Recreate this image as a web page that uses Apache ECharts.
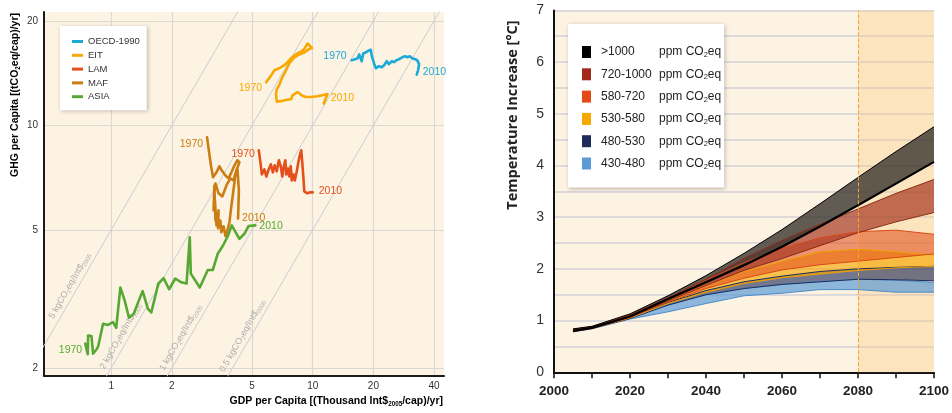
<!DOCTYPE html>
<html><head><meta charset="utf-8">
<script src="https://cdn.jsdelivr.net/npm/echarts@6/dist/echarts.min.js"></script>
<style>html,body{margin:0;padding:0;background:#fff}#c{width:952px;height:413px}</style>
</head><body><div id="c"></div>
<script>
const FONT = "'Liberation Sans','Arial',sans-serif";

// ---------- Left panel data: [GDP per capita (k Int$2005), GHG per capita (tCO2eq)] ----------
const regionNames = ['OECD-1990','EIT','LAM','MAF','ASIA'];
const regionColors = ['#1ba9d6','#f8a800','#e3501c','#c97d12','#57a832'];
const oecd = [[15.6,15.4],[16.2,15.5],[16.7,15.6],[17.0,16.0],[17.3,15.8],[17.5,15.3],[17.8,16.1],[18.3,16.2],[18.9,16.4],[19.4,16.5],[19.6,15.9],[20.2,15.0],[20.6,14.6],[21.3,14.8],[22.0,14.7],[22.6,14.9],[23.3,15.3],[23.9,15.0],[24.7,15.3],[25.3,15.2],[26.0,15.4],[26.8,15.5],[27.8,15.7],[28.7,15.8],[29.5,15.7],[30.3,15.8],[31.2,15.6],[32.2,15.5],[33.0,15.4],[33.7,15.0],[33.3,14.4],[32.8,14.0]];
const eit = [[5.87,13.3],[6.21,13.9],[6.45,14.4],[6.83,14.6],[7.23,14.9],[7.50,15.2],[7.80,15.6],[8.10,15.9],[8.41,16.1],[8.74,16.3],[9.08,16.6],[9.43,17.2],[9.91,16.7],[9.61,16.6],[9.08,16.2],[8.58,16.0],[8.10,15.7],[7.65,15.1],[7.37,14.4],[7.06,13.75],[6.83,13.1],[6.63,12.7],[6.57,12.3],[6.63,11.7],[6.75,11.55],[7.09,11.76],[7.48,11.84],[7.80,11.88],[7.94,12.2],[8.41,12.47],[8.58,12.36],[8.87,12.16],[9.25,12.06],[9.83,12.06],[10.56,12.12],[11.18,12.2],[11.84,12.3],[11.60,11.94],[11.34,11.55]];
const lam = [[5.40,8.47],[5.50,7.82],[5.59,7.22],[5.75,7.46],[5.89,7.12],[6.02,7.42],[6.20,7.72],[6.34,7.32],[6.48,7.67],[6.63,7.37],[6.79,7.93],[6.94,7.62],[7.06,7.12],[7.19,7.62],[7.31,7.93],[7.39,7.22],[7.52,7.51],[7.65,7.12],[7.78,7.62],[7.87,6.94],[8.01,7.22],[8.15,6.94],[8.33,7.37],[8.48,7.82],[8.62,8.19],[8.77,8.47],[8.87,7.82],[8.97,7.17],[9.08,6.45],[9.39,6.37],[9.72,6.41],[10.0,6.41]];
const maf = [[2.99,9.23],[3.06,8.36],[3.13,7.62],[3.20,7.08],[3.33,7.32],[3.44,7.62],[3.56,7.37],[3.69,7.17],[3.82,7.03],[3.95,7.32],[4.09,7.67],[4.23,7.93],[4.33,7.82],[4.18,7.42],[4.04,6.94],[3.90,7.03],[3.73,6.71],[3.56,6.24],[3.41,6.37],[3.29,6.80],[3.24,6.28],[3.22,5.69],[3.25,6.71],[3.29,5.32],[3.27,6.08],[3.33,5.15],[3.41,5.69],[3.39,5.05],[3.48,5.32],[3.52,4.92],[3.61,5.12],[3.69,4.79],[3.77,4.98],[3.86,5.25],[3.95,5.88],[4.04,6.49],[4.13,7.17],[4.23,7.51],[4.30,6.49],[4.28,5.88],[4.26,5.39]];
const asia = [[0.743,2.35],[0.765,2.19],[0.768,2.48],[0.798,2.47],[0.813,2.20],[0.845,2.26],[0.862,2.31],[0.911,2.68],[0.964,2.66],[1.021,2.71],[1.059,2.61],[1.110,3.41],[1.166,3.13],[1.225,2.79],[1.292,2.86],[1.360,3.09],[1.432,3.33],[1.521,2.96],[1.581,2.89],[1.713,3.50],[1.819,3.63],[1.937,3.37],[2.079,3.62],[2.226,3.53],[2.365,3.50],[2.453,4.76],[2.483,3.74],[2.752,3.41],[3.014,3.83],[3.191,3.83],[3.379,4.27],[3.577,4.49],[3.786,4.79],[3.963,5.15],[4.326,4.71],[4.580,4.87],[4.811,5.13],[5.192,5.15]];
const startYear = '1970', endYear = '2010';
const gdpTicks = [1,2,5,10,20,40];
const ghgTicks = [2,5,10,20];
const gdpRange = [0.464,44.8];
const ghgRange = [1.90,21.2];
const intensityLevels = [5,2,1,0.5];   // kgCO2eq per Int$2005

// ---------- Right panel data ----------
const years = [2005,2010,2020,2030,2040,2050,2060,2070,2080,2090,2100];
const bandNames = ['>1000','720-1000','580-720','530-580','480-530','430-480'];
const b1000Low  = [0.80,0.86,1.08,1.42,1.74,2.07,2.43,2.82,3.23,3.65,4.07];
const b1000High = [0.84,0.89,1.13,1.48,1.87,2.30,2.76,3.26,3.77,4.27,4.75];
const b720Low   = [0.79,0.86,1.07,1.38,1.68,1.97,2.20,2.45,2.70,2.91,3.09];
const b720High  = [0.83,0.88,1.11,1.44,1.80,2.20,2.55,2.86,3.16,3.46,3.73];
const b580Low   = [0.79,0.85,1.06,1.36,1.62,1.82,1.98,2.08,2.15,2.22,2.29];
const b580High  = [0.82,0.88,1.10,1.42,1.78,2.12,2.40,2.60,2.72,2.75,2.67];
const b530Low   = [0.79,0.85,1.05,1.33,1.55,1.72,1.83,1.90,1.97,2.02,2.05];
const b530High  = [0.81,0.87,1.08,1.38,1.68,1.95,2.15,2.33,2.38,2.33,2.27];
const b480Low   = [0.79,0.85,1.04,1.30,1.50,1.62,1.70,1.75,1.80,1.79,1.77];
const b480High  = [0.81,0.87,1.07,1.35,1.58,1.75,1.86,1.95,2.00,2.03,2.05];
const b430Low   = [0.78,0.84,1.03,1.17,1.33,1.48,1.53,1.60,1.60,1.55,1.55];
const b430High  = [0.80,0.86,1.06,1.30,1.50,1.62,1.70,1.76,1.80,1.78,1.74];
const periodStart = 2080, periodEnd = 2100;

// ---------- styles ----------
const bandLows = [b1000Low,b720Low,b580Low,b530Low,b480Low,b430Low];
const bandHighs = [b1000High,b720High,b580High,b530High,b480High,b430High];
const bandFill = ['rgba(58,53,48,0.8)','rgba(163,50,28,0.68)','rgba(226,80,28,0.58)','rgba(247,166,0,0.65)','rgba(30,44,90,0.62)','rgba(91,155,213,0.7)'];
const bandEdge = ['#000000','#8c2a16','#d94a18','#f0a000','#1e2c5a','#4a8ccc'];
const bandLegend = ['#000000','#a3291a','#e24b17','#f7a800','#1e2c5a','#5b9bd5'];
const labelCfg = [
  {first:{position:'left',distance:5,offset:[0,-4]}, last:{position:'right',distance:6,offset:[0,-2]}},
  {first:{position:'left',distance:4,offset:[0,6]}, last:{position:'right',distance:7,offset:[0,-5]}},
  {first:{position:'left',distance:4,offset:[0,4]}, last:{position:'right',distance:6,offset:[0,-1]}},
  {first:{position:'left',distance:4,offset:[0,7]}, last:{position:'right',distance:4,offset:[0,0]}},
  {first:{position:'left',distance:3,offset:[0,6]}, last:{position:'right',distance:4,offset:[0,1]}}
];
const isoLabelY = [3.45,2.47,2.45,2.48];

const L = Math.log10;
const regionData = [oecd,eit,lam,maf,asia];
const fmtPow = v => String(+Math.pow(10,v).toPrecision(2));

const series = [];
intensityLevels.forEach(k=>{
  series.push({type:'line', xAxisIndex:0, yAxisIndex:0, silent:true, z:1,
    data:[[-1, L(k)-1],[2, L(k)+2]], symbol:'none',
    lineStyle:{color:'#cbccd3', width:1}});
});
series.push({type:'scatter', xAxisIndex:0, yAxisIndex:0, silent:true, z:1, symbolSize:0,
  data: intensityLevels.map((k,i)=>({value:[L(isoLabelY[i]/k), L(isoLabelY[i])],
    label:{show:true, position:'inside', rotate:60, offset:[-4.5,-7.8],
      formatter:'{t|'+k+' kgCO}{s|2}{t|eq/Int$}{s|2005}',
      rich:{t:{fontSize:9,color:'#9c9ca0',fontFamily:FONT,lineHeight:11},
            s:{fontSize:6,color:'#9c9ca0',fontFamily:FONT,lineHeight:5,verticalAlign:'bottom'}}}}))
});
regionData.forEach((d,i)=>{
  series.push({name:regionNames[i], type:'line', xAxisIndex:0, yAxisIndex:0, silent:true, z:5,
    data: d.map((p,j)=>{
      const v=[L(p[0]),L(p[1])];
      if(j===0) return {value:v, label:Object.assign({show:true, formatter:startYear}, labelCfg[i].first)};
      if(j===d.length-1) return {value:v, label:Object.assign({show:true, formatter:endYear}, labelCfg[i].last)};
      return v;
    }),
    symbol:'circle', symbolSize:0, showSymbol:true, showAllSymbol:true,
    lineStyle:{color:regionColors[i], width:2.6, join:'round', cap:'round'},
    itemStyle:{color:regionColors[i]},
    label:{show:false, color:regionColors[i], fontSize:10.5, fontFamily:FONT}
  });
});
// bands (value first, year second, so the stack is computed on the temperature dimension)
for (let i=bandNames.length-1;i>=0;i--){
  const lo = bandLows[i], hi = bandHighs[i];
  const base = {type:'line', xAxisIndex:1, yAxisIndex:1, stack:'band'+i, silent:true, symbol:'none',
    encode:{x:1, y:0},
    data: years.map((y,j)=>[lo[j], y]),
    lineStyle:{color:bandEdge[i], width: i===0?2.2:1}, z:3};
  if (i===bandNames.length-1){
    base.markArea = {silent:true, itemStyle:{color:'rgba(250,200,120,0.34)'}, data:[[{xAxis:periodStart},{xAxis:periodEnd}]]};
    base.markLine = {silent:true, symbol:'none', label:{show:false},
      lineStyle:{type:'dashed', color:'#f2a531', width:1}, data:[{xAxis:periodStart}]};
  }
  series.push(base);
  series.push({name:bandNames[i], type:'line', xAxisIndex:1, yAxisIndex:1, stack:'band'+i, silent:true, symbol:'none',
    encode:{x:1, y:0},
    data: years.map((y,j)=>[+(hi[j]-lo[j]).toFixed(3), y]),
    lineStyle:{color:bandEdge[i], width:1}, itemStyle:{color:bandLegend[i]},
    areaStyle:{color:bandFill[i], opacity:1}, z:3});
}

const ttlRich = (sz)=>({b:{fontSize:sz,fontWeight:'bold',fontFamily:FONT,color:'#222',lineHeight:sz+2},
  s:{fontSize:sz*0.6,fontWeight:'bold',fontFamily:FONT,color:'#222',lineHeight:4,verticalAlign:'bottom'}});

const option = {
  animation:false,
  backgroundColor:'#ffffff',
  grid:[
    {left:44, top:12, width:400, height:363.7, show:true, backgroundColor:'#fdf3e3', borderWidth:0},
    {left:554, top:10.4, width:383.7, height:361.9, show:true, backgroundColor:'#fdf3e3', borderWidth:0}
  ],
  xAxis:[
    {gridIndex:0, type:'value', min:L(gdpRange[0]), max:L(gdpRange[1]),
      axisLine:{show:true, onZero:false, lineStyle:{color:'#1a1a1a', width:2}}, axisTick:{show:false, customValues:gdpTicks.map(L)},
      axisLabel:{customValues:gdpTicks.map(L), formatter:fmtPow, fontSize:10, fontFamily:FONT, color:'#333', margin:6},
      splitLine:{show:true, lineStyle:{color:'#dcd9d4', width:1.2}}},
    {gridIndex:1, type:'value', min:2000, max:2100, interval:10,
      axisLine:{show:true, onZero:false, lineStyle:{color:'#111', width:2}}, axisTick:{show:true, length:6, lineStyle:{color:'#111', width:1.5}},
      axisLabel:{formatter:v=> v%20===0 ? String(v) : '', fontSize:13.5, fontWeight:'bold', fontFamily:FONT, color:'#222', margin:12},
      splitLine:{show:false}}
  ],
  yAxis:[
    {gridIndex:0, type:'value', min:L(ghgRange[0]), max:L(ghgRange[1]),
      axisLine:{show:true, onZero:false, lineStyle:{color:'#1a1a1a', width:2}}, axisTick:{show:false, customValues:ghgTicks.map(L)},
      axisLabel:{customValues:ghgTicks.map(L), formatter:fmtPow, fontSize:10, fontFamily:FONT, color:'#333', margin:6},
      splitLine:{show:true, lineStyle:{color:'#dcd9d4', width:1.2}}},
    {gridIndex:1, type:'value', min:0, max:7, interval:0.5,
      axisLine:{show:true, onZero:false, lineStyle:{color:'#111', width:2}}, axisTick:{show:false},
      axisLabel:{formatter:v=> Number.isInteger(v) ? String(v) : '', fontSize:14, fontFamily:FONT, color:'#333', margin:10},
      splitLine:{show:true, lineStyle:{color:'#d3d2d8', width:1.5}}}
  ],
  legend:[
    {data:regionNames, orient:'vertical', left:60, top:26, icon:'rect', itemWidth:11, itemHeight:3, itemGap:0.8,
      padding:[9,7,7,12], backgroundColor:'#ffffff', shadowBlur:4, shadowColor:'rgba(0,0,0,0.25)', shadowOffsetX:1, shadowOffsetY:1,
      selectedMode:false, textStyle:{fontSize:9.5, fontFamily:FONT, color:'#333', lineHeight:13}},
    {data:bandNames.map((n,i)=>({name:n, itemStyle:{color:bandLegend[i]}})), orient:'vertical', left:568, top:24, icon:'rect',
      itemWidth:9, itemHeight:12, itemGap:9.3, padding:[22,3,17,14], backgroundColor:'#ffffff',
      shadowBlur:4, shadowColor:'rgba(0,0,0,0.25)', shadowOffsetX:1, shadowOffsetY:1, selectedMode:false,
      formatter: n => '{a|'+n+'}{b|ppm CO}{s|2}{b|eq}',
      textStyle:{rich:{
        a:{fontSize:12, fontFamily:FONT, color:'#222', width:58, lineHeight:14, padding:[0,0,0,5]},
        b:{fontSize:12, fontFamily:FONT, color:'#222', lineHeight:14},
        s:{fontSize:7.5, fontFamily:FONT, color:'#222', lineHeight:6, verticalAlign:'bottom'}}}}
  ],
  graphic:[
    {type:'text', x:15, y:95, rotation:Math.PI/2, silent:true,
      style:{text:'{b|GHG per Capita [(tCO}{s|2}{b|eq/cap)/yr]}', rich:ttlRich(10.5), align:'center', verticalAlign:'middle'}},
    {type:'text', x:443, y:401, silent:true,
      style:{text:'{b|GDP per Capita [(Thousand Int$}{s|2005}{b|/cap)/yr]}', rich:ttlRich(10.5), align:'right', verticalAlign:'middle'}},
    {type:'text', x:513, y:115, rotation:Math.PI/2, silent:true,
      style:{text:'Temperature Increase [°C]', font:"bold 14.5px 'Open Sans', sans-serif", fill:'#222', align:'center', verticalAlign:'middle'}}
  ],
  series: series
};
const chart = echarts.init(document.getElementById('c'));
chart.setOption(option);
</script>
</body></html>
